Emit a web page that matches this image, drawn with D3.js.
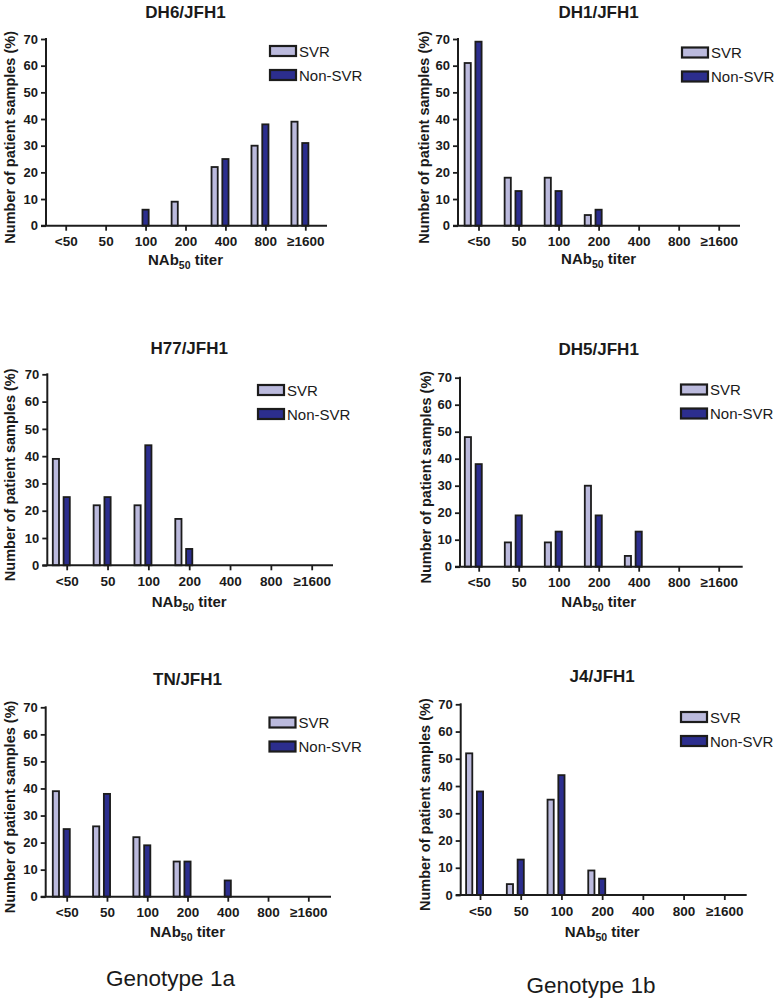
<!DOCTYPE html>
<html>
<head>
<meta charset="utf-8">
<script src="https://cdn.jsdelivr.net/npm/d3@7"></script>
<style>
  html, body { margin: 0; padding: 0; background: #fff; }
  svg { display: block; }
  text { font-family: "Liberation Sans", Arial, sans-serif; fill: #1a1a1a; }
</style>
</head>
<body>
<svg id="chart" width="781" height="1001"></svg>
<script>
// ---------- DATA ----------
const categories = ["<50", "50", "100", "200", "400", "800", "\u22651600"];
const seriesNames = ["SVR", "Non-SVR"];
const yTicks = [0, 10, 20, 30, 40, 50, 60, 70];

const panelTitles = ["DH6/JFH1", "DH1/JFH1", "H77/JFH1", "DH5/JFH1", "TN/JFH1", "J4/JFH1"];

const dh6Svr = [0, 0, 0, 9, 22, 30, 39];
const dh6Non = [0, 0, 6, 0, 25, 38, 31];
const dh1Svr = [61, 18, 18, 4, 0, 0, 0];
const dh1Non = [69, 13, 13, 6, 0, 0, 0];
const h77Svr = [39, 22, 22, 17, 0, 0, 0];
const h77Non = [25, 25, 44, 6, 0, 0, 0];
const dh5Svr = [48, 9, 9, 30, 4, 0, 0];
const dh5Non = [38, 19, 13, 19, 13, 0, 0];
const tnSvr = [39, 26, 22, 13, 0, 0, 0];
const tnNon = [25, 38, 19, 13, 6, 0, 0];
const j4Svr = [52, 4, 35, 9, 0, 0, 0];
const j4Non = [38, 13, 44, 6, 0, 0, 0];

const svrValues = [dh6Svr, dh1Svr, h77Svr, dh5Svr, tnSvr, j4Svr];
const nonValues = [dh6Non, dh1Non, h77Non, dh5Non, tnNon, j4Non];

const groupLabels = ["Genotype 1a", "Genotype 1b"];

// ---------- LAYOUT ----------
const layouts = [
  {axX: 46,    y70: 39,    y0: 225.7, t0: 65.7,  tN: 305.3, xEnd: 327,   titleY: 17.5,  legX: 269,   legY: 45,    xTitleY: 265,   yTitleX: 10},
  {axX: 458,   y70: 39,    y0: 225.7, t0: 478.5, tN: 718.7, xEnd: 740,   titleY: 17.5,  legX: 681,   legY: 46.5,  xTitleY: 264,   yTitleX: 424},
  {axX: 47.3,  y70: 374.3, y0: 565.3, t0: 66.7,  tN: 311.7, xEnd: 333,   titleY: 353.5, legX: 257,   legY: 384,   xTitleY: 606.5, yTitleX: 10},
  {axX: 460,   y70: 377.7, y0: 566.7, t0: 478.7, tN: 718.7, xEnd: 742.7, titleY: 355,   legX: 680,   legY: 383.5, xTitleY: 607,   yTitleX: 426},
  {axX: 45.7,  y70: 707.3, y0: 896.7, t0: 66.7,  tN: 308.3, xEnd: 331,   titleY: 685,   legX: 268.5, legY: 716.5, xTitleY: 936.5, yTitleX: 10},
  {axX: 460.7, y70: 704.3, y0: 895,   t0: 480,   tN: 724.3, xEnd: 746.7, titleY: 681.5, legX: 680,   legY: 711,   xTitleY: 936.5, yTitleX: 425}
];
const groupLabelPos = [{x: 170.5, y: 986}, {x: 591, y: 993}];

const colors = {"SVR": "#bbbadd", "Non-SVR": "#2c2e8e"};
const strokeCol = "#1c1c1c";

const svg = d3.select("#chart");

layouts.forEach((L, i) => {
  const g = svg.append("g");
  const x = d3.scalePoint().domain(categories).range([L.t0, L.tN]);
  const xs = d3.scaleBand().domain(seriesNames).range([-13.9, 3.1]).paddingInner(0.426);
  const y = d3.scaleLinear().domain([0, 70]).range([L.y0, L.y70]);

  // bars
  const rows = [];
  categories.forEach((c, k) => {
    rows.push({cat: c, s: "SVR", v: svrValues[i][k]});
    rows.push({cat: c, s: "Non-SVR", v: nonValues[i][k]});
  });
  g.selectAll("rect.bar").data(rows.filter(d => d.v > 0)).join("rect")
    .attr("class", "bar")
    .attr("x", d => x(d.cat) + xs(d.s))
    .attr("width", xs.bandwidth())
    .attr("y", d => y(d.v))
    .attr("height", d => y(0) - y(d.v))
    .attr("fill", d => colors[d.s])
    .attr("stroke", strokeCol)
    .attr("stroke-width", 1.8);

  // y axis
  const yAxis = d3.axisLeft(y).tickValues(yTicks).tickSize(5).tickPadding(3);
  const ya = g.append("g").attr("transform", `translate(${L.axX},0)`).call(yAxis);
  ya.select(".domain").attr("stroke", strokeCol).attr("stroke-width", 2).attr("d", `M0,${L.y70 - 1}V${L.y0}`);
  ya.selectAll(".tick line").attr("stroke", strokeCol).attr("stroke-width", 1.8);
  ya.selectAll(".tick text").attr("font-size", 13).attr("font-weight", "bold")
    .attr("font-family", "Liberation Sans, Arial, sans-serif").attr("fill", "#1a1a1a");

  // x axis
  const xAxis = d3.axisBottom(x).tickSize(5).tickPadding(6);
  const xa = g.append("g").attr("transform", `translate(0,${L.y0})`).call(xAxis);
  xa.select(".domain").attr("stroke", strokeCol).attr("stroke-width", 2).attr("d", `M${L.axX - 5},0H${L.xEnd}`);
  xa.selectAll(".tick line").attr("stroke", strokeCol).attr("stroke-width", 1.8);
  xa.selectAll(".tick text").attr("font-size", 13.5).attr("font-weight", "bold")
    .attr("font-family", "Liberation Sans, Arial, sans-serif").attr("fill", "#1a1a1a");

  const cx = (L.t0 + L.tN) / 2;
  // title
  g.append("text").attr("x", cx).attr("y", L.titleY).attr("text-anchor", "middle")
    .attr("font-size", 17).attr("font-weight", "bold").text(panelTitles[i]);

  // x axis title
  const xt = g.append("text").attr("x", cx).attr("y", L.xTitleY).attr("text-anchor", "middle")
    .attr("font-size", 15).attr("font-weight", "bold");
  xt.append("tspan").text("NAb");
  xt.append("tspan").attr("font-size", 10.5).attr("dy", 4).text("50");
  xt.append("tspan").attr("dy", -4).text(" titer");

  // y axis title
  g.append("text").attr("transform", `translate(${L.yTitleX},${(L.y70 + L.y0) / 2 + 5}) rotate(-90)`)
    .attr("text-anchor", "middle").attr("dominant-baseline", "central")
    .attr("font-size", 14.5).attr("font-weight", "bold").text("Number of patient samples (%)");

  // legend
  seriesNames.forEach((s, k) => {
    const ly = L.legY + k * 24;
    g.append("rect").attr("x", L.legX + 1).attr("y", ly + 1).attr("width", 26).attr("height", 10)
      .attr("fill", colors[s]).attr("stroke", strokeCol).attr("stroke-width", 2.2);
    g.append("text").attr("x", L.legX + 30).attr("y", ly + 11.5)
      .attr("font-size", 15).text(s);
  });
});

groupLabels.forEach((t, k) => {
  svg.append("text").attr("x", groupLabelPos[k].x).attr("y", groupLabelPos[k].y)
    .attr("text-anchor", "middle").attr("font-size", 22.5).text(t);
});
</script>
</body>
</html>
